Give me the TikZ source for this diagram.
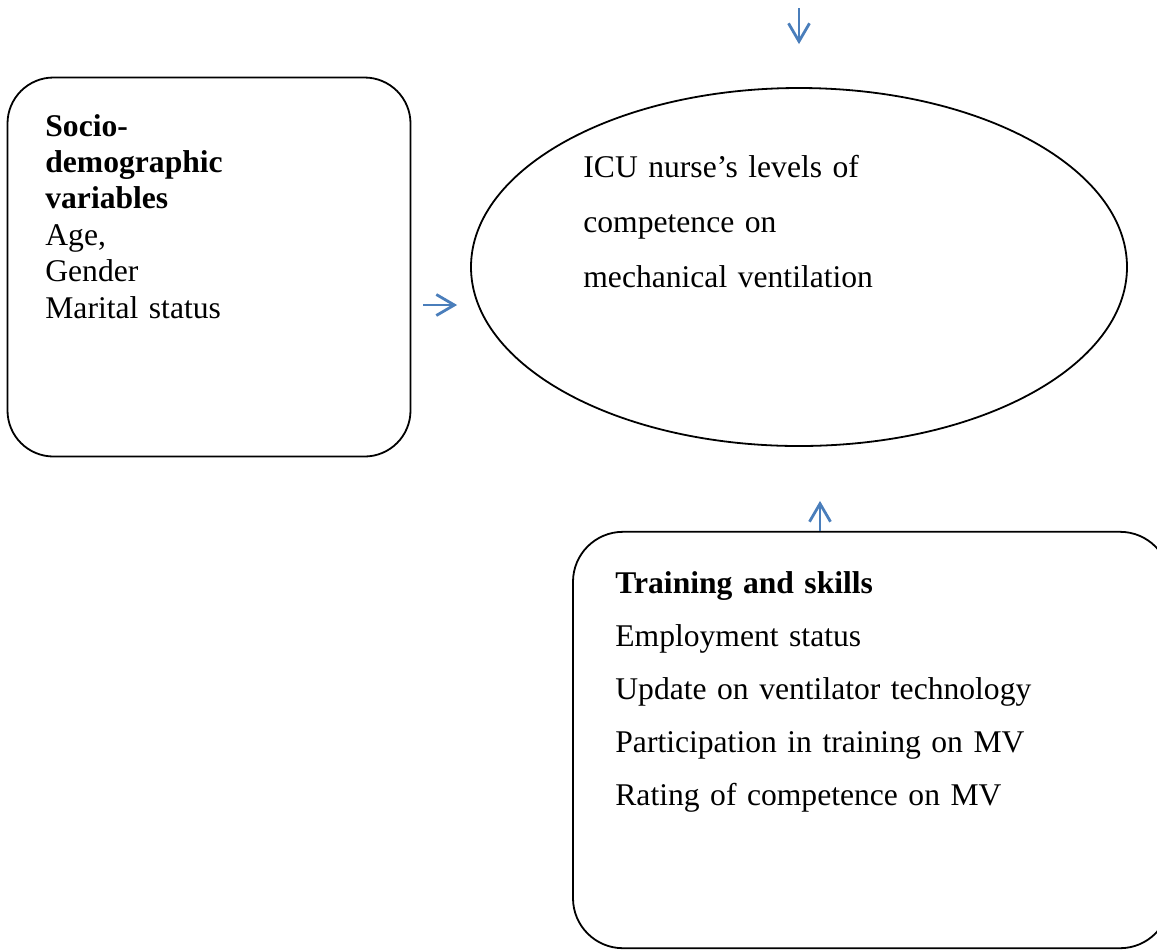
\documentclass[tikz,border=0pt]{standalone}
\usepackage{fontspec}
\setmainfont{Liberation Serif}
\usetikzlibrary{arrows.meta,shapes.geometric}
\definecolor{arrowblue}{RGB}{74,126,187}

\begin{document}
\begin{tikzpicture}[x=0.5pt, y=-0.5pt]
\tikzstyle{roundbox}=[draw, line width=0.9pt, rounded corners=23pt, inner sep=0pt]
\tikzstyle{oval}=[draw, ellipse, line width=0.9pt, inner sep=0pt]
\tikzstyle{bodytext}=[inner sep=0pt, align=left, anchor=base west, font=\fontsize{15.8}{18.2}\selectfont]
\tikzstyle{link}=[draw=arrowblue, line width=1.4pt, -{Straight Barb[length=9pt,width=10.5pt]}]
\useasboundingbox (0,0) rectangle (1157,950);
\node[roundbox, minimum width=201.5pt, minimum height=189.5pt] (socio) at (209,267) {};
\node[oval, minimum width=328pt, minimum height=179pt] (nurse) at (799,267) {};
\node[roundbox, rounded corners=25pt, minimum width=298.5pt, minimum height=208.2pt] (train) at (871.5,740) {};
\node[bodytext, text width=180pt] (sociotext) at (45,136) {\textbf{Socio-}\\\textbf{demographic}\\\textbf{variables}\\Age,\\Gender\\Marital status};
\node[bodytext, text width=200pt, font=\fontsize{15.8}{27.5}\selectfont] (nursetext) at (583,177) {ICU nurse’s levels of\\competence on\\mechanical ventilation};
\node[bodytext, text width=250pt, font=\fontsize{15.8}{26.6}\selectfont] (traintext) at (615,593) {\textbf{Training and skills}\\Employment status\\Update on ventilator technology\\Participation in training on MV\\Rating of competence on MV};
\coordinate (topin) at (799,8);
\coordinate (socout) at ([yshift=-19pt]socio.east);
\coordinate (nursein) at (socout -| nurse.west);
\coordinate (trainout) at ([xshift=-25.75pt]train.north);
\coordinate (nursebot) at (trainout |- nurse.south);
\draw[link, shorten >=21.5pt] (topin) -- (nurse.north);
\draw[link, shorten <=6pt, shorten >=6.5pt] (socout) -- (nursein);
\draw[link, shorten >=27pt] (trainout) -- (nursebot);
\end{tikzpicture}
\end{document}
